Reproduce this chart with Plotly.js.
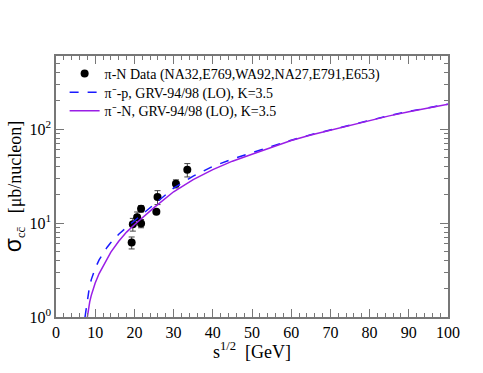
<!DOCTYPE html>
<html>
<head>
<meta charset="utf-8">
<script src="https://cdn.plot.ly/plotly-3.0.1.min.js"></script>
<style>
  body { margin: 0; background: #fff; }
  #plotMap { width: 483px; height: 373px; }
</style>
</head>
<body>
<div id="plotMap"></div>
<script>
// pi-N data points
var dataX = [19.3, 19.6, 20.7, 21.7, 21.7, 25.6, 25.9, 30.6, 33.5];
var dataY = [6.2, 9.7, 11.5, 14.2, 9.9, 13.2, 18.9, 26.2, 36.9];
var dataErr = [0.9, 1.5, 1.6, 1.1, 1.0, 0.6, 3.2, 2.6, 6.0];

// pi- p, GRV-94/98 (LO), K=3.5
var pX = [7.4, 7.7, 8, 8.5, 9, 9.5, 10, 11, 12, 13, 14, 16, 18, 20, 22, 25, 30, 35, 40, 45, 50, 55, 60, 65, 70, 75, 80, 85, 90, 95, 100];
var pY = [1.0, 1.25, 1.55, 2.05, 2.5, 2.9, 3.3, 4.05, 4.8, 5.5, 6.2, 7.6, 9.0, 10.6, 12.4, 15.6, 23.5, 31.5, 40, 48, 56, 65.5, 76, 87, 98, 111, 125, 139, 154, 169, 184];

// pi- N, GRV-94/98 (LO), K=3.5
var nX = [8.0, 8.3, 8.6, 9, 9.5, 10, 11, 12, 13, 14, 16, 18, 20, 22, 25, 30, 35, 40, 45, 50, 55, 60, 65, 70, 75, 80, 85, 90, 95, 100];
var nY = [1.0, 1.25, 1.45, 1.7, 2.0, 2.3, 2.9, 3.5, 4.2, 4.9, 6.4, 8.0, 9.6, 11.4, 14.6, 21.5, 29, 37, 45.5, 54, 64, 75.5, 86.5, 97.5, 110, 124, 138, 153, 168, 183];

var yTicks = [1, 10, 100];
var yTickText = ['10<sup>0</sup>', '10<sup>1</sup>', '10<sup>2</sup>'];

var minorY = [];
[1, 10, 100].forEach(function (d) {
  for (var k = 2; k <= 9; k++) minorY.push(k * d);
});

var serif = '"Liberation Serif"';

var trace1 = {
  x: dataX, y: dataY,
  error_y: { type: 'data', array: dataErr, color: '#444', thickness: 1, width: 3 },
  mode: 'markers', type: 'scatter',
  marker: { color: 'black', size: 8 },
  legend: 'legend',
  name: '\u03c0-N Data (NA32,E769,WA92,NA27,E791,E653)'
};

var trace2 = {
  x: pX, y: pY, mode: 'lines', type: 'scatter',
  line: { color: '#1a1aff', width: 1.5, dash: 'dash' },
  legend: 'legend2',
  name: '\u03c0\u207b-p, GRV-94/98 (LO), K=3.5'
};

var trace3 = {
  x: nX, y: nY, mode: 'lines', type: 'scatter',
  line: { color: '#9a1ee6', width: 1.5 },
  legend: 'legend3',
  name: '\u03c0\u207b-N, GRV-94/98 (LO), K=3.5'
};

var axisCommon = {
  showline: true, linecolor: '#777', linewidth: 1.5, mirror: 'ticks',
  ticks: 'inside', ticklen: 8, tickcolor: '#777', tickwidth: 1,
  showgrid: false, zeroline: false,
  tickfont: { family: serif, size: 16, color: 'black' }
};

function legendAt(y) {
  return {
    x: 0.022, y: y, xanchor: 'left', yanchor: 'middle',
    bgcolor: 'rgba(0,0,0,0)', borderwidth: 0,
    font: { family: serif, size: 14, color: 'black' },
    itemwidth: 30
  };
}

var layout = {
  width: 483, height: 373,
  margin: { l: 56, r: 35, t: 56, b: 56 },
  paper_bgcolor: 'white', plot_bgcolor: 'white',
  showlegend: true,
  legend: legendAt(0.931),
  legend2: legendAt(0.860),
  legend3: legendAt(0.789),
  xaxis: Object.assign({}, axisCommon, {
    range: [0, 100], dtick: 10,
    minor: { dtick: 2, ticks: 'inside', ticklen: 4, tickcolor: '#777' }
  }),
  yaxis: Object.assign({}, axisCommon, {
    type: 'log', range: [0, 2.777],
    tickmode: 'array', tickvals: yTicks, ticktext: yTickText,
    minor: { tickmode: 'array', tickvals: minorY, ticks: 'inside', ticklen: 4, tickcolor: '#777' },
    title: { text: '<span style="font-family:\'Liberation Sans\';font-size:23px">\u03c3</span><sub>cc\u0304</sub>   [\u03bcb/nucleon]', standoff: 4,
      font: { family: serif, size: 18, color: 'black' } }
  }),
  annotations: [{
    xref: 'paper', yref: 'paper', x: 0.5, y: -0.128,
    xanchor: 'center', yanchor: 'middle', showarrow: false,
    text: 's<sup>1/2</sup>  [GeV]',
    font: { family: serif, size: 18, color: 'black' }
  }]
};

Plotly.newPlot('plotMap', [trace1, trace2, trace3], layout, { displayModeBar: false });
</script>
</body>
</html>
